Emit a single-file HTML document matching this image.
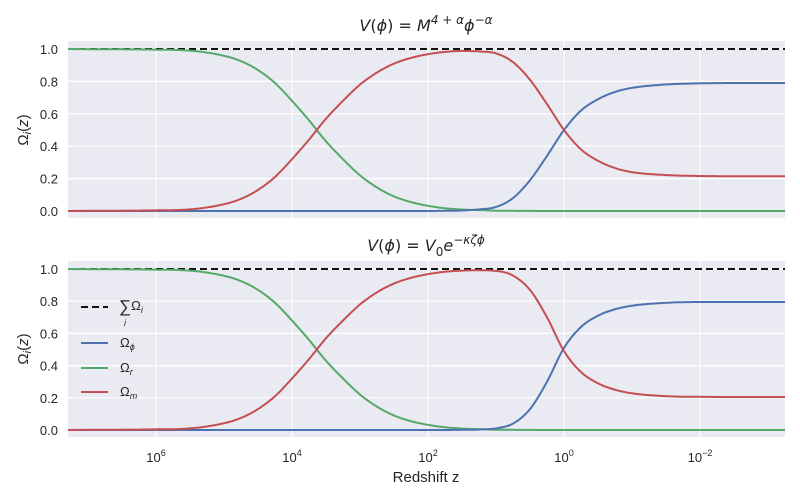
<!DOCTYPE html>
<html><head><meta charset="utf-8"><style>
body{margin:0;background:#fff;}
svg{display:block;font-family:"Liberation Sans","DejaVu Sans",sans-serif;}
.tick{font-size:13px;fill:#262626;}
.title{font-family:"DejaVu Sans",sans-serif;font-size:16px;fill:#262626;}
</style></head><body>
<svg id="chart" width="800" height="500" viewBox="0 0 800 500">
<text class="title" x="426" y="31" text-anchor="middle"><tspan font-style="italic">V</tspan>(<tspan font-style="italic">ϕ</tspan>) = <tspan font-style="italic">M</tspan><tspan dy="-7" font-size="12" font-style="italic">4 + α</tspan><tspan dy="7" font-style="italic">ϕ</tspan><tspan dy="-7" font-size="12" font-style="italic">−α</tspan></text>
<text class="title" x="426" y="251" text-anchor="middle"><tspan font-style="italic">V</tspan>(<tspan font-style="italic">ϕ</tspan>) = <tspan font-style="italic">V</tspan><tspan dy="5" font-size="12">0</tspan><tspan dy="-5" font-style="italic">e</tspan><tspan dy="-7" font-size="12" font-style="italic">−κζϕ</tspan></text>
<text x="426" y="482" text-anchor="middle" font-size="15" fill="#262626">Redshift z</text>
<text transform="translate(28,130) rotate(-90)" text-anchor="middle" font-size="15" fill="#262626">Ω<tspan font-size="11" dy="3" font-style="italic">i</tspan><tspan dy="-3">(</tspan><tspan font-style="italic">z</tspan>)</text>
<text transform="translate(28,349) rotate(-90)" text-anchor="middle" font-size="15" fill="#262626">Ω<tspan font-size="11" dy="3" font-style="italic">i</tspan><tspan dy="-3">(</tspan><tspan font-style="italic">z</tspan>)</text>
<g id="legend">
<line x1="81" y1="307" x2="108" y2="307" stroke="#111" stroke-width="2" stroke-dasharray="7,4"/>
<text x="119" y="312" font-size="17" fill="#262626">∑<tspan font-size="13" dy="-2">Ω</tspan><tspan font-size="9" dy="3" font-style="italic">i</tspan></text>
<text x="124" y="326" font-size="9" font-style="italic" fill="#262626">i</text>
<line x1="81" y1="343" x2="108" y2="343" stroke="#4C72B0" stroke-width="2"/>
<text x="120" y="347" font-size="13" fill="#262626">Ω<tspan font-size="9" dy="3" font-style="italic">ϕ</tspan></text>
<line x1="81" y1="368" x2="108" y2="368" stroke="#55A868" stroke-width="2"/>
<text x="120" y="372" font-size="13" fill="#262626">Ω<tspan font-size="9" dy="3" font-style="italic">r</tspan></text>
<line x1="81" y1="392" x2="108" y2="392" stroke="#C44E52" stroke-width="2"/>
<text x="120" y="396" font-size="13" fill="#262626">Ω<tspan font-size="9" dy="3" font-style="italic">m</tspan></text>
</g>
</svg>
<script>
const logZ = [7.3,7,6.5,6,5.5,5,4.75,4.5,4.25,4,3.75,3.5,3.25,3,2.75,2.5,2.25,2,1.75,1.5,1.25,1,0.75,0.5,0.25,0,-0.25,-0.5,-0.75,-1,-1.5,-2,-2.5,-3,-3.3];
const omegaR = [1,0.999,0.998,0.996,0.99,0.958,0.925,0.87,0.79,0.68,0.56,0.43,0.32,0.22,0.145,0.09,0.055,0.032,0.017,0.009,0.005,0.002,0.001,0.0005,0,0,0,0,0,0,0,0,0,0,0];
const omegaPhiTop = [0,0,0,0,0,0,0,0,0,0,0,0,0,0,0,0,0,0,0.001,0.003,0.01,0.025,0.08,0.19,0.34,0.5,0.62,0.69,0.735,0.76,0.781,0.788,0.79,0.79,0.79];
const omegaMTop = [0,0.001,0.002,0.004,0.01,0.042,0.075,0.13,0.21,0.32,0.44,0.57,0.68,0.78,0.855,0.91,0.945,0.968,0.982,0.988,0.985,0.973,0.919,0.81,0.66,0.5,0.38,0.31,0.265,0.24,0.222,0.216,0.215,0.215,0.215];
const omegaPhiBot = [0,0,0,0,0,0,0,0,0,0,0,0,0,0,0,0,0,0,0,0.001,0.003,0.01,0.04,0.13,0.3,0.51,0.64,0.71,0.75,0.772,0.79,0.795,0.795,0.795,0.795];
const omegaMBot = [0,0.001,0.002,0.004,0.01,0.042,0.075,0.13,0.21,0.32,0.44,0.57,0.68,0.78,0.855,0.91,0.945,0.968,0.983,0.99,0.992,0.988,0.959,0.87,0.7,0.49,0.36,0.29,0.25,0.228,0.21,0.206,0.205,0.205,0.205];
const omegaSum = [1,1];
const xTicks = [6,4,2,0,-2];
const yTicks = [0,0.2,0.4,0.6,0.8,1.0];

const NS='http://www.w3.org/2000/svg';
const svg=document.getElementById('chart');
const X0=68,X1=785, L0=7.294, L1=-3.25;
const xs=v=>X0+(L0-v)/(L0-L1)*(X1-X0);
function mk(tag,attrs,parent){const e=document.createElementNS(NS,tag);for(const k in attrs)e.setAttribute(k,attrs[k]);(parent||svg).appendChild(e);return e;}
function mono(xv,yv){const n=xv.length,d=[],m=[];for(let i=0;i<n-1;i++)d.push((yv[i+1]-yv[i])/(xv[i+1]-xv[i]));
m[0]=d[0];m[n-1]=d[n-2];for(let i=1;i<n-1;i++){m[i]=(d[i-1]*d[i]<=0)?0:(d[i-1]+d[i])/2;}
for(let i=0;i<n-1;i++){if(d[i]===0){m[i]=0;m[i+1]=0;continue;}const a=m[i]/d[i],b=m[i+1]/d[i],s=a*a+b*b;if(s>9){const t=3/Math.sqrt(s);m[i]=t*a*d[i];m[i+1]=t*b*d[i];}}
return t=>{let i=0;while(i<n-2&&!(t<=xv[i]&&t>=xv[i+1]))i++;const h=xv[i+1]-xv[i],u=(t-xv[i])/h,u2=u*u,u3=u2*u;
return (2*u3-3*u2+1)*yv[i]+(u3-2*u2+u)*h*m[i]+(-2*u3+3*u2)*yv[i+1]+(u3-u2)*h*m[i+1];};}
function panel(top,bot,name,series){
 const yb=bot-7, yt=top+8; const ys=v=>yb-v*(yb-yt);
 const g=mk('g',{});
 
 
 const bg=mk('rect',{x:X0,y:top,width:X1-X0,height:bot-top,fill:'#EAEAF2'},g);
 
 
 yTicks.forEach(v=>{const l=mk('line',{x1:X0,x2:X1,y1:ys(v),y2:ys(v),stroke:'#fff','stroke-width':1.2},g);
  
  
  const t=mk('text',{x:58,y:ys(v)+5,'text-anchor':'end',class:'tick'},g);t.textContent=v.toFixed(1);
  
  });
 xTicks.forEach(v=>{const l=mk('line',{x1:xs(v),x2:xs(v),y1:top,y2:bot,stroke:'#fff','stroke-width':1.2},g);
  
  });
 const sl=mk('line',{x1:X0,x2:X1,y1:ys(omegaSum[0]),y2:ys(omegaSum[1]),stroke:'#111','stroke-width':2,'stroke-dasharray':'7,4'},g);
 
 
 series.forEach(s=>{const f=mono(logZ,s.v);let d='';
  for(let px=X0;px<=X1;px+=1.5){const lz=L0-(px-X0)/(X1-X0)*(L0-L1);let y=f(Math.max(Math.min(lz,logZ[0]),logZ[logZ.length-1]));d+=(d?'L':'M')+px.toFixed(1)+','+ys(y).toFixed(1);}
  const p=mk('path',{d:d,fill:'none',stroke:s.c,'stroke-width':2},g);
  
  });
}
panel(41,218,'top-panel',[{v:omegaR,c:'#55A868',n:'radiation-line'},{v:omegaPhiTop,c:'#4C72B0',n:'phi-line'},{v:omegaMTop,c:'#C44E52',n:'matter-line'}]);
panel(261,437,'bottom-panel',[{v:omegaR,c:'#55A868',n:'radiation-line'},{v:omegaPhiBot,c:'#4C72B0',n:'phi-line'},{v:omegaMBot,c:'#C44E52',n:'matter-line'}]);
svg.appendChild(document.getElementById('legend'));
xTicks.forEach(v=>{const t=mk('text',{x:xs(v),y:462,'text-anchor':'middle',class:'tick'});
 
 
 t.innerHTML='10<tspan dy="-6" font-size="9">'+(v<0?'−'+(-v):v)+'</tspan>';});
</script>
</body></html>
